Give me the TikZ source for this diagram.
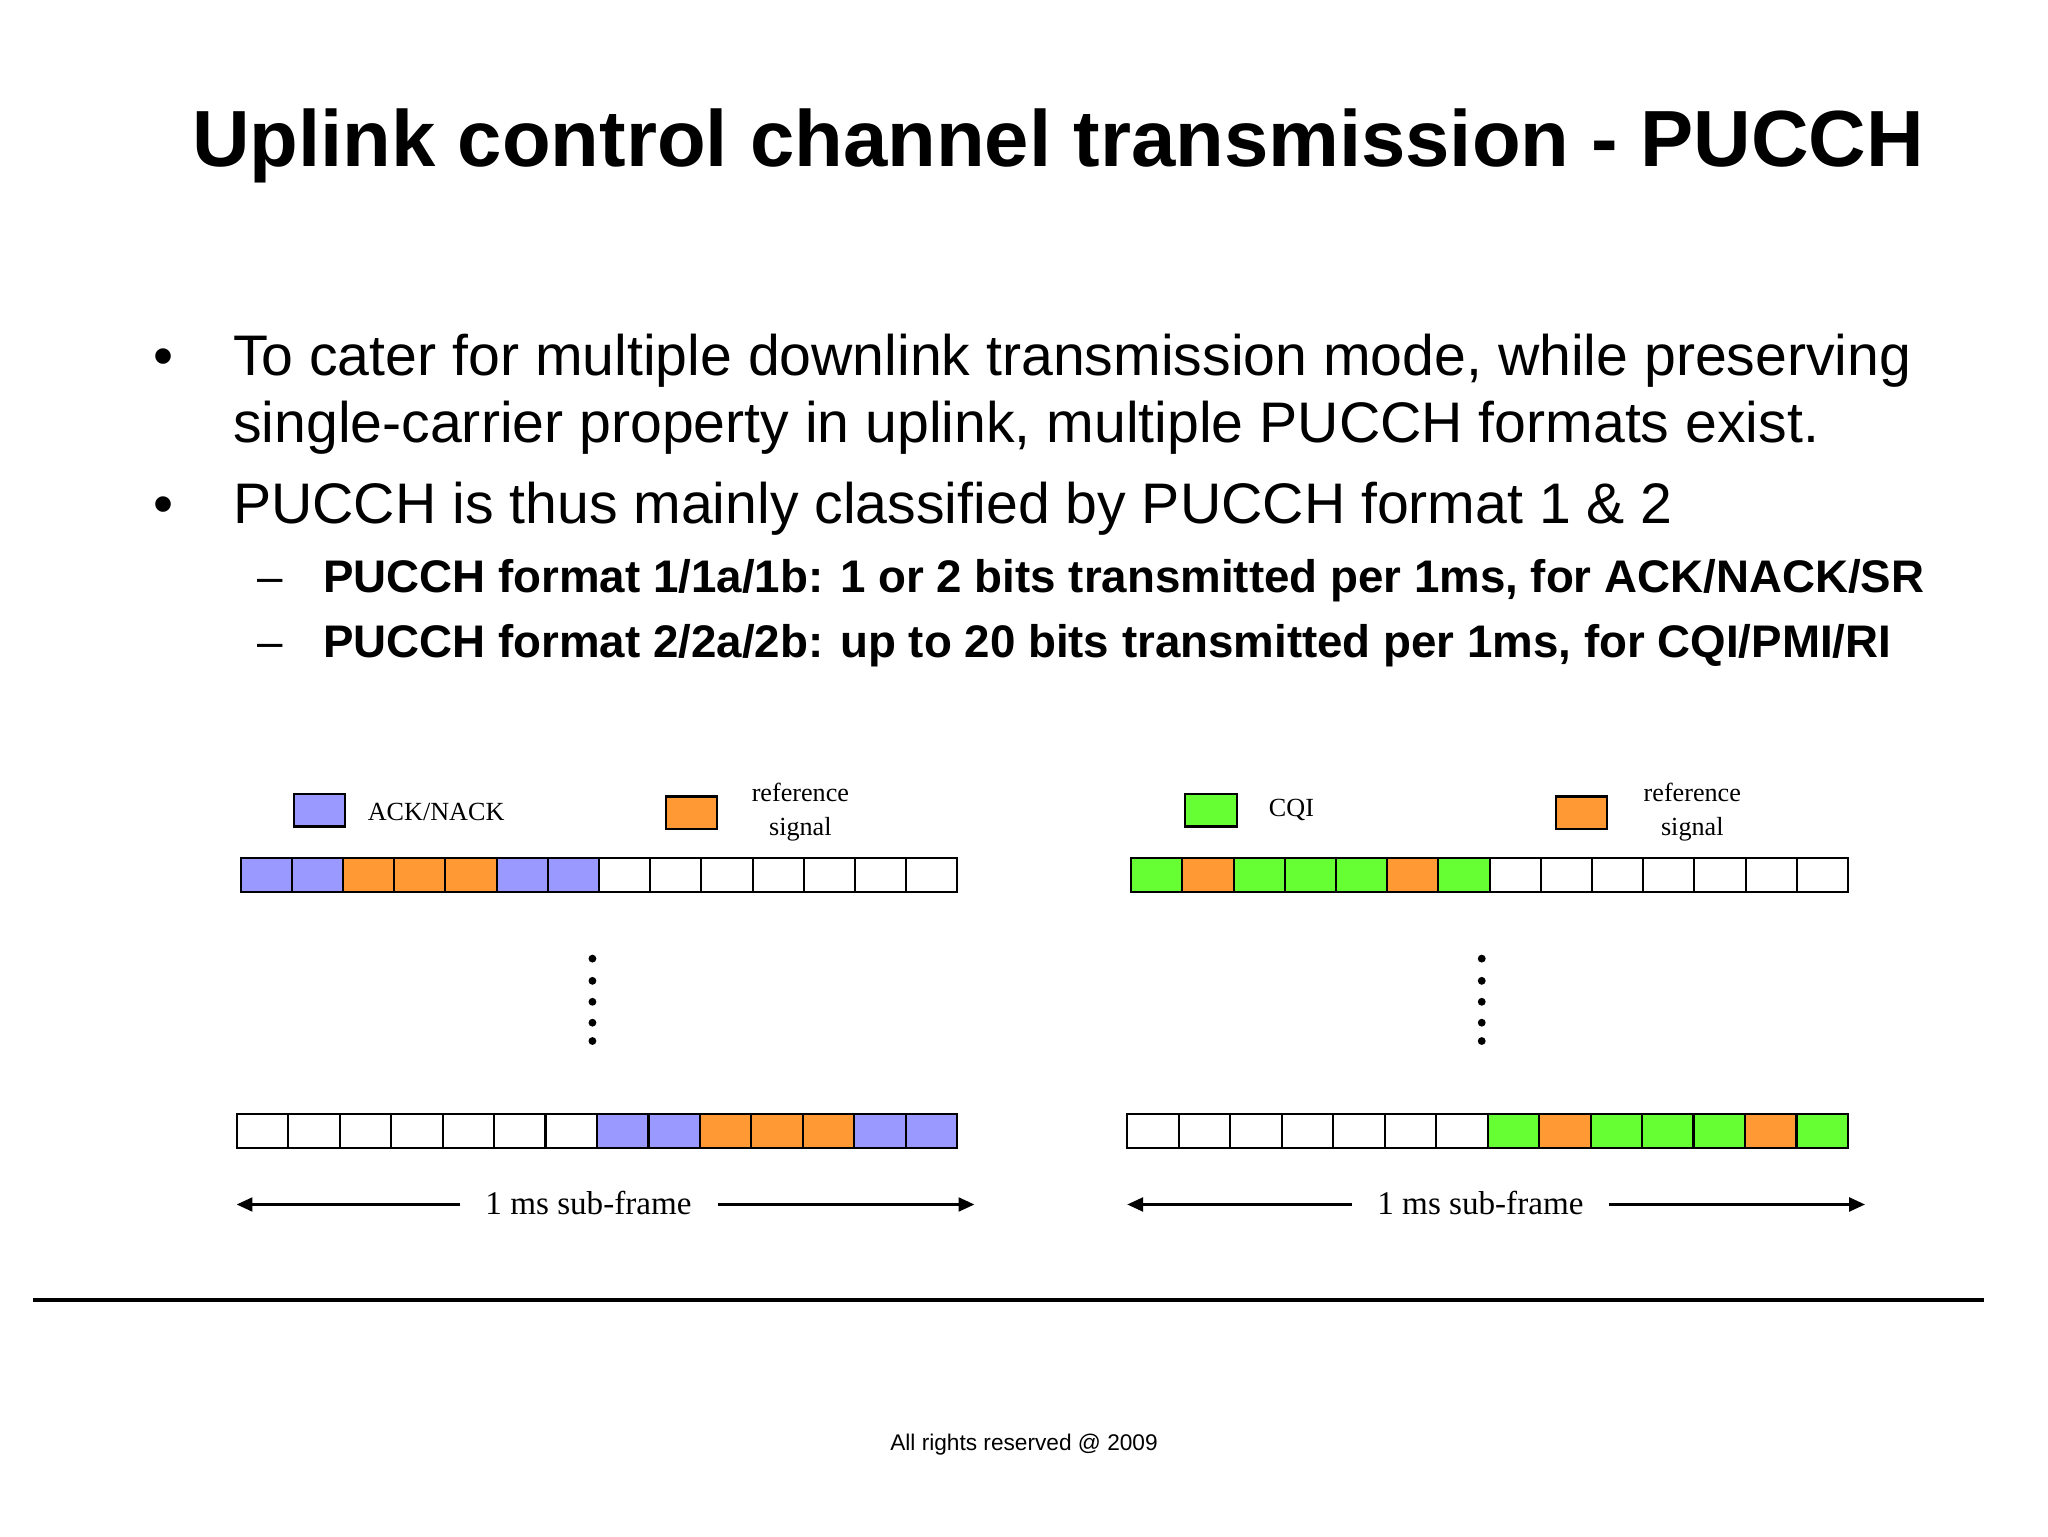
\documentclass[tikz,border=0pt]{standalone}
\usepackage{fontspec}
\usetikzlibrary{arrows.meta}
\setmainfont{Liberation Sans}
\newfontfamily\serifd{Liberation Serif}
\definecolor{pu}{HTML}{9999FF}
\definecolor{og}{HTML}{FF9933}
\definecolor{gr}{HTML}{66FF33}
\begin{document}
\begin{tikzpicture}[x=0.75pt,y=-0.75pt,
  cell/.style={draw=black,line width=1.2pt},
  lbl/.style={font=\serifd\fontsize{15}{17}\selectfont,align=center,inner sep=0pt},
  dotm/.style={fill=black,circle,inner sep=0pt,minimum size=4.5pt},
  arr/.style={line width=1.2pt,-{Triangle[length=9pt,width=8pt]}}]
\useasboundingbox (0,0) rectangle (1566,1175);
\fill[white] (0,0) rectangle (1566,1175);
\node[anchor=base,inner sep=0pt,font=\bfseries\fontsize{45.7}{50}\selectfont] (title) at (809,127) {Uplink control channel transmission - PUCCH};
\begin{scope}[every node/.style={anchor=base west,inner sep=0pt,font=\fontsize{32.8}{36}\selectfont}]
\node (b1) at (117,287) {•};
\node (t1) at (178,287) {To cater for multiple downlink transmission mode, while preserving};
\node (t1b) at (178,338) {single-carrier property in uplink, multiple PUCCH formats exist.};
\node (b2) at (117,400) {•};
\node (t2) at (178,400) {PUCCH is thus mainly classified by PUCCH format 1 \& 2};
\end{scope}
\begin{scope}[every node/.style={anchor=base west,inner sep=0pt,font=\bfseries\fontsize{26.2}{28}\selectfont}]
\node (d1) at (197,453) {\mdseries –};
\node (s1) at (247,453) {PUCCH format 1/1a/1b: 1 or 2 bits transmitted per 1ms, for ACK/NACK/SR};
\node (d2) at (197,503) {\mdseries –};
\node (s2) at (247,503) {PUCCH format 2/2a/2b: up to 20 bits transmitted per 1ms, for CQI/PMI/RI};
\end{scope}
% legends
\draw[cell,fill=pu] (225,607) rectangle (264,632);
\node[lbl,anchor=west] (ack) at (281,621) {ACK/NACK};
\draw[cell,fill=og] (509,609) rectangle (548,634);
\node[lbl] (ref1) at (612,621) {reference\\[3pt]signal};
\draw[cell,fill=gr] (906,607) rectangle (946,632);
\node[lbl,anchor=west] (cqi) at (970,619) {CQI};
\draw[cell,fill=og] (1190,609) rectangle (1229,634);
\node[lbl] (ref2) at (1294,621) {reference\\[3pt]signal};
% rows
\newcommand{\cellrow}[4]{%
 \foreach \c [count=\i from 0] in {#4} {
   \pgfmathsetmacro{\wd}{(732+#3-#1)/14}
   \draw[cell,fill=\c] ({#1+\i*\wd},#2) rectangle ({#1+(\i+1)*\wd},#2+26);
 }}
\cellrow{184}{656}{0}{pu,pu,og,og,og,pu,pu,white,white,white,white,white,white,white}
\cellrow{181}{852}{0}{white,white,white,white,white,white,white,pu,pu,og,og,og,pu,pu}
\cellrow{865}{656}{681}{gr,og,gr,gr,gr,og,gr,white,white,white,white,white,white,white}
\cellrow{862}{852}{681}{white,white,white,white,white,white,white,gr,og,gr,gr,gr,og,gr}
% dots
\foreach \y in {733,750,766,782,796}{\node[dotm] at (453,\y){}; \node[dotm] at (1133,\y){};}
% arrows
\node[lbl,font=\serifd\fontsize{19}{22}\selectfont] (f1) at (450,920) {1 ms sub-frame};
\node[lbl,font=\serifd\fontsize{19}{22}\selectfont] (f2) at (1132,920) {1 ms sub-frame};
\coordinate (a1) at (181,921); \coordinate (a2) at (352,921);
\coordinate (a3) at (549,921); \coordinate (a4) at (745,921);
\coordinate (a5) at (862,921); \coordinate (a6) at (1034,921);
\coordinate (a7) at (1230,921); \coordinate (a8) at (1426,921);
\draw[arr] (a2) -- (a1);
\draw[arr] (a3) -- (a4);
\draw[arr] (a6) -- (a5);
\draw[arr] (a7) -- (a8);
% rule
\coordinate (r1) at (25,994); \coordinate (r2) at (1517,994);
\draw[line width=2pt] (r1) -- (r2);
\node[font=\fontsize{13}{15}\selectfont,inner sep=0pt] (foot) at (783,1105) {All rights reserved @ 2009};
\end{tikzpicture}
\end{document}
